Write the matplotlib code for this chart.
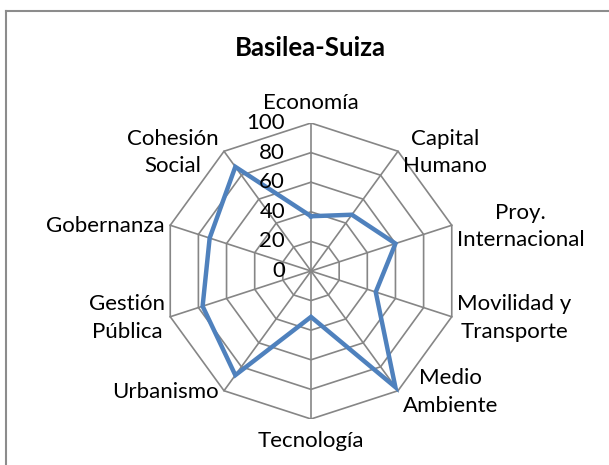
import numpy as np
import matplotlib.pyplot as plt
from matplotlib.lines import Line2D

categories = ["Economía", "Capital\nHumano", "Proy.\nInternacional", "Movilidad y\nTransporte",
              "Medio\nAmbiente", "Tecnología", "Urbanismo", "Gestión\nPública",
              "Gobernanza", "Cohesión\nSocial"]
values = [37, 47, 60, 46, 97, 31, 87, 77, 72, 87]
ticks = [0, 20, 40, 60, 80, 100]
title = "Basilea-Suiza"

plt.rcParams['font.family'] = ['Lato', 'DejaVu Sans']

W, H = 609, 465
fig = plt.figure(figsize=(W / 100, H / 100), dpi=100)

# chart border (only top and left visible in the crop)
fig.add_artist(Line2D([6 / W, 6 / W], [0, 1 - 11 / H], color="#8c8c8c", lw=1.5))
fig.add_artist(Line2D([6 / W, 1], [1 - 11 / H, 1 - 11 / H], color="#8c8c8c", lw=1.5))

cx, cy, rad = 311, 271, 148
ax = fig.add_axes([(cx - rad) / W, (H - cy - rad) / H, 2 * rad / W, 2 * rad / H])
ax.set_xlim(-100, 100)
ax.set_ylim(-100, 100)
ax.set_aspect("equal")
ax.axis("off")

n = len(categories)
ang = np.arange(n) * 2 * np.pi / n
sx, sy = np.sin(ang), np.cos(ang)

grid_col = "#868686"
for t in ticks[1:]:
    ax.plot(np.append(sx, sx[0]) * t, np.append(sy, sy[0]) * t, color=grid_col, lw=1.2, zorder=1)
for i in range(n):
    ax.plot([0, sx[i] * 100], [0, sy[i] * 100], color=grid_col, lw=1.2, zorder=1)

v = np.array(values)
ax.plot(np.append(sx * v, sx[0] * v[0]), np.append(sy * v, sy[0] * v[0]),
        color="#4F81BD", lw=3.2, solid_joinstyle="miter", zorder=3)

fs = 16
for t in ticks:
    ax.text(-17.5, t, str(t), ha="right", va="center", fontsize=fs, color="#000000", zorder=4)

for i, lab in enumerate(categories):
    x, y = sx[i] * 100, sy[i] * 100
    if abs(sx[i]) < 0.1:
        va = "bottom" if sy[i] > 0 else "top"
        ax.text(x, y + (7 if sy[i] > 0 else -8), lab, ha="center", va=va, fontsize=fs,
                multialignment="center", clip_on=False)
    else:
        ha = "left" if sx[i] > 0 else "right"
        ax.text(x + (3.5 if sx[i] > 0 else -3.5), y - 0.8, lab, ha=ha, va="center", fontsize=fs,
                multialignment="center", linespacing=1.45, clip_on=False)

fig.text(310 / W, 1 - 48 / H, title, ha="center", va="center", fontsize=18.5, fontweight="bold")

fig.savefig("out.png", dpi=100)
